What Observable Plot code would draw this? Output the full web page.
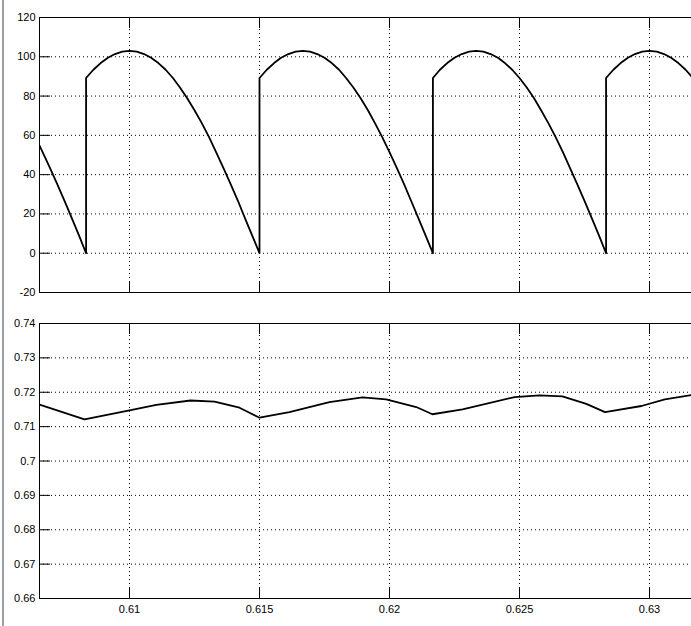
<!DOCTYPE html>
<html>
<head>
<meta charset="utf-8">
<script src="https://cdn.jsdelivr.net/npm/d3@7"></script>
<script src="https://cdn.jsdelivr.net/npm/@observablehq/plot@0.6"></script>
<style>
  html, body { margin: 0; padding: 0; background: white; overflow: hidden; width: 691px; height: 626px; }
  #wrap { position: relative; width: 691px; height: 626px; overflow: hidden; }
  #edge { position: absolute; left: 2px; top: 0; width: 2px; height: 626px; background: #9aa0a6; z-index: 5; }
  #wrap svg { position: absolute; left: 0; max-width: none !important; }
</style>
</head>
<body>
<div id="wrap"><div id="edge"></div></div>
<script>
// ---- data ----
const xDomain = [0.606538, 0.631962];
const xTicks = [0.61, 0.615, 0.62, 0.625, 0.63];
const xTickLabels = ["0.61", "0.615", "0.62", "0.625", "0.63"];

// top panel
const topYDomain = [-20, 120];
const topYTicks = [-20, 0, 20, 40, 60, 80, 100, 120];
const topYTickLabels = ["-20", "0", "20", "40", "60", "80", "100", "120"];
const topT = [
  0.60654, 0.60694, 0.60722, 0.6075, 0.60778, 0.60806, 0.60833,
  0.60833, 0.60861, 0.60889, 0.60917, 0.60944, 0.60972, 0.61, 0.61028, 0.61056, 0.61083, 0.61111, 0.61139, 0.61167,
  0.61194, 0.61222, 0.6125, 0.61278, 0.61306, 0.61333, 0.61361, 0.61389, 0.61417, 0.61444, 0.61472, 0.615,
  0.615, 0.61528, 0.61556, 0.61583, 0.61611, 0.61639, 0.61667, 0.61694, 0.61722, 0.6175, 0.61778, 0.61806, 0.61833,
  0.61861, 0.61889, 0.61917, 0.61944, 0.61972, 0.62, 0.62028, 0.62056, 0.62083, 0.62111, 0.62139, 0.62167,
  0.62167, 0.62194, 0.62222, 0.6225, 0.62278, 0.62306, 0.62333, 0.62361, 0.62389, 0.62417, 0.62444, 0.62472, 0.625,
  0.62528, 0.62556, 0.62583, 0.62611, 0.62639, 0.62667, 0.62694, 0.62722, 0.6275, 0.62778, 0.62806, 0.62833,
  0.62833, 0.62861, 0.62889, 0.62917, 0.62944, 0.62972, 0.63, 0.63028, 0.63056, 0.63083, 0.63111, 0.63139, 0.63167,
  0.63194, 0.63222
];
const topV = [
  54.8, 43.5, 35.2, 26.7, 17.9, 9.0, 0,
  89.2, 93.4, 96.8, 99.5, 101.4, 102.6, 103, 102.6, 101.4, 99.5, 96.8, 93.4, 89.2,
  84.4, 78.9, 72.8, 66.2, 59.1, 51.5, 43.5, 35.2, 26.7, 17.9, 9.0, 0,
  89.2, 93.4, 96.8, 99.5, 101.4, 102.6, 103, 102.6, 101.4, 99.5, 96.8, 93.4, 89.2,
  84.4, 78.9, 72.8, 66.2, 59.1, 51.5, 43.5, 35.2, 26.7, 17.9, 9.0, 0,
  89.2, 93.4, 96.8, 99.5, 101.4, 102.6, 103, 102.6, 101.4, 99.5, 96.8, 93.4, 89.2,
  84.4, 78.9, 72.8, 66.2, 59.1, 51.5, 43.5, 35.2, 26.7, 17.9, 9.0, 0,
  89.2, 93.4, 96.8, 99.5, 101.4, 102.6, 103, 102.6, 101.4, 99.5, 96.8, 93.4, 89.2,
  84.4, 78.9
];

// bottom panel
const botYDomain = [0.66, 0.74];
const botYTicks = [0.66, 0.67, 0.68, 0.69, 0.7, 0.71, 0.72, 0.73, 0.74];
const botYTickLabels = ["0.66", "0.67", "0.68", "0.69", "0.7", "0.71", "0.72", "0.73", "0.74"];
const botT = [
  0.60654, 0.60827, 0.61, 0.61103, 0.61235, 0.61327, 0.61423, 0.615,
  0.61615, 0.61769, 0.61896, 0.61987, 0.62103, 0.62165,
  0.62281, 0.62481, 0.62577, 0.62665, 0.62757, 0.62829,
  0.62969, 0.63059, 0.63162
];
const botV = [
  0.7164, 0.7121, 0.7147, 0.7163, 0.7176, 0.7173, 0.7155, 0.7126,
  0.7142, 0.7171, 0.7185, 0.7179, 0.7157, 0.7136,
  0.7150, 0.7186, 0.7191, 0.7188, 0.7166, 0.7142,
  0.7160, 0.7179, 0.7192
];

// ---- drawing ----
const innerH = 275;
const innerW = 661;
const tickLen = 11;

function panel({t, v, yDomain, yTicks, yLabels, showX, height, marginTop, marginBottom}) {
  const data = t.map((d, i) => ({t: d, v: v[i]}));
  return Plot.plot({
    width: 710,
    height,
    marginLeft: 39,
    marginRight: 10,
    marginTop,
    marginBottom,
    style: {fontFamily: "Arial, 'Liberation Sans', sans-serif", fontSize: "11px", color: "black", background: "white", overflow: "visible", maxWidth: "none"},
    x: {domain: xDomain, ticks: xTicks, tickFormat: d => xTickLabels[xTicks.indexOf(d)], tickSize: 0, tickPadding: 7, label: null, axis: showX ? "bottom" : null},
    y: {domain: yDomain, ticks: yTicks, tickFormat: d => yLabels[yTicks.indexOf(d)], tickSize: 0, tickPadding: 4, label: null},
    marks: [
      Plot.ruleY(yTicks, {y: d => d, stroke: "black", strokeDasharray: "1,3"}),
      Plot.ruleX(xTicks, {x: d => d, stroke: "black", strokeDasharray: "1,3"}),
      Plot.tickX(xTicks, {x: d => d, stroke: "black", insetTop: innerH - tickLen}),
      Plot.tickX(xTicks, {x: d => d, stroke: "black", insetBottom: innerH - tickLen}),
      Plot.tickY(yTicks, {y: d => d, stroke: "black", insetRight: innerW - tickLen}),
      Plot.line(data, {x: "t", y: "v", stroke: "black", strokeWidth: 1.8, clip: true}),
      Plot.frame({stroke: "black"})
    ]
  });
}

const wrap = document.getElementById("wrap");
const top1 = panel({t: topT, v: topV, yDomain: topYDomain, yTicks: topYTicks, yLabels: topYTickLabels, showX: false, height: 300, marginTop: 17, marginBottom: 8});
top1.style.top = "0px";
top1.style.maxWidth = "none";
wrap.appendChild(top1);
const bot = panel({t: botT, v: botV, yDomain: botYDomain, yTicks: botYTicks, yLabels: botYTickLabels, showX: true, height: 326, marginTop: 23, marginBottom: 28});
bot.style.top = "300px";
bot.style.maxWidth = "none";
wrap.appendChild(bot);
</script>
</body>
</html>
